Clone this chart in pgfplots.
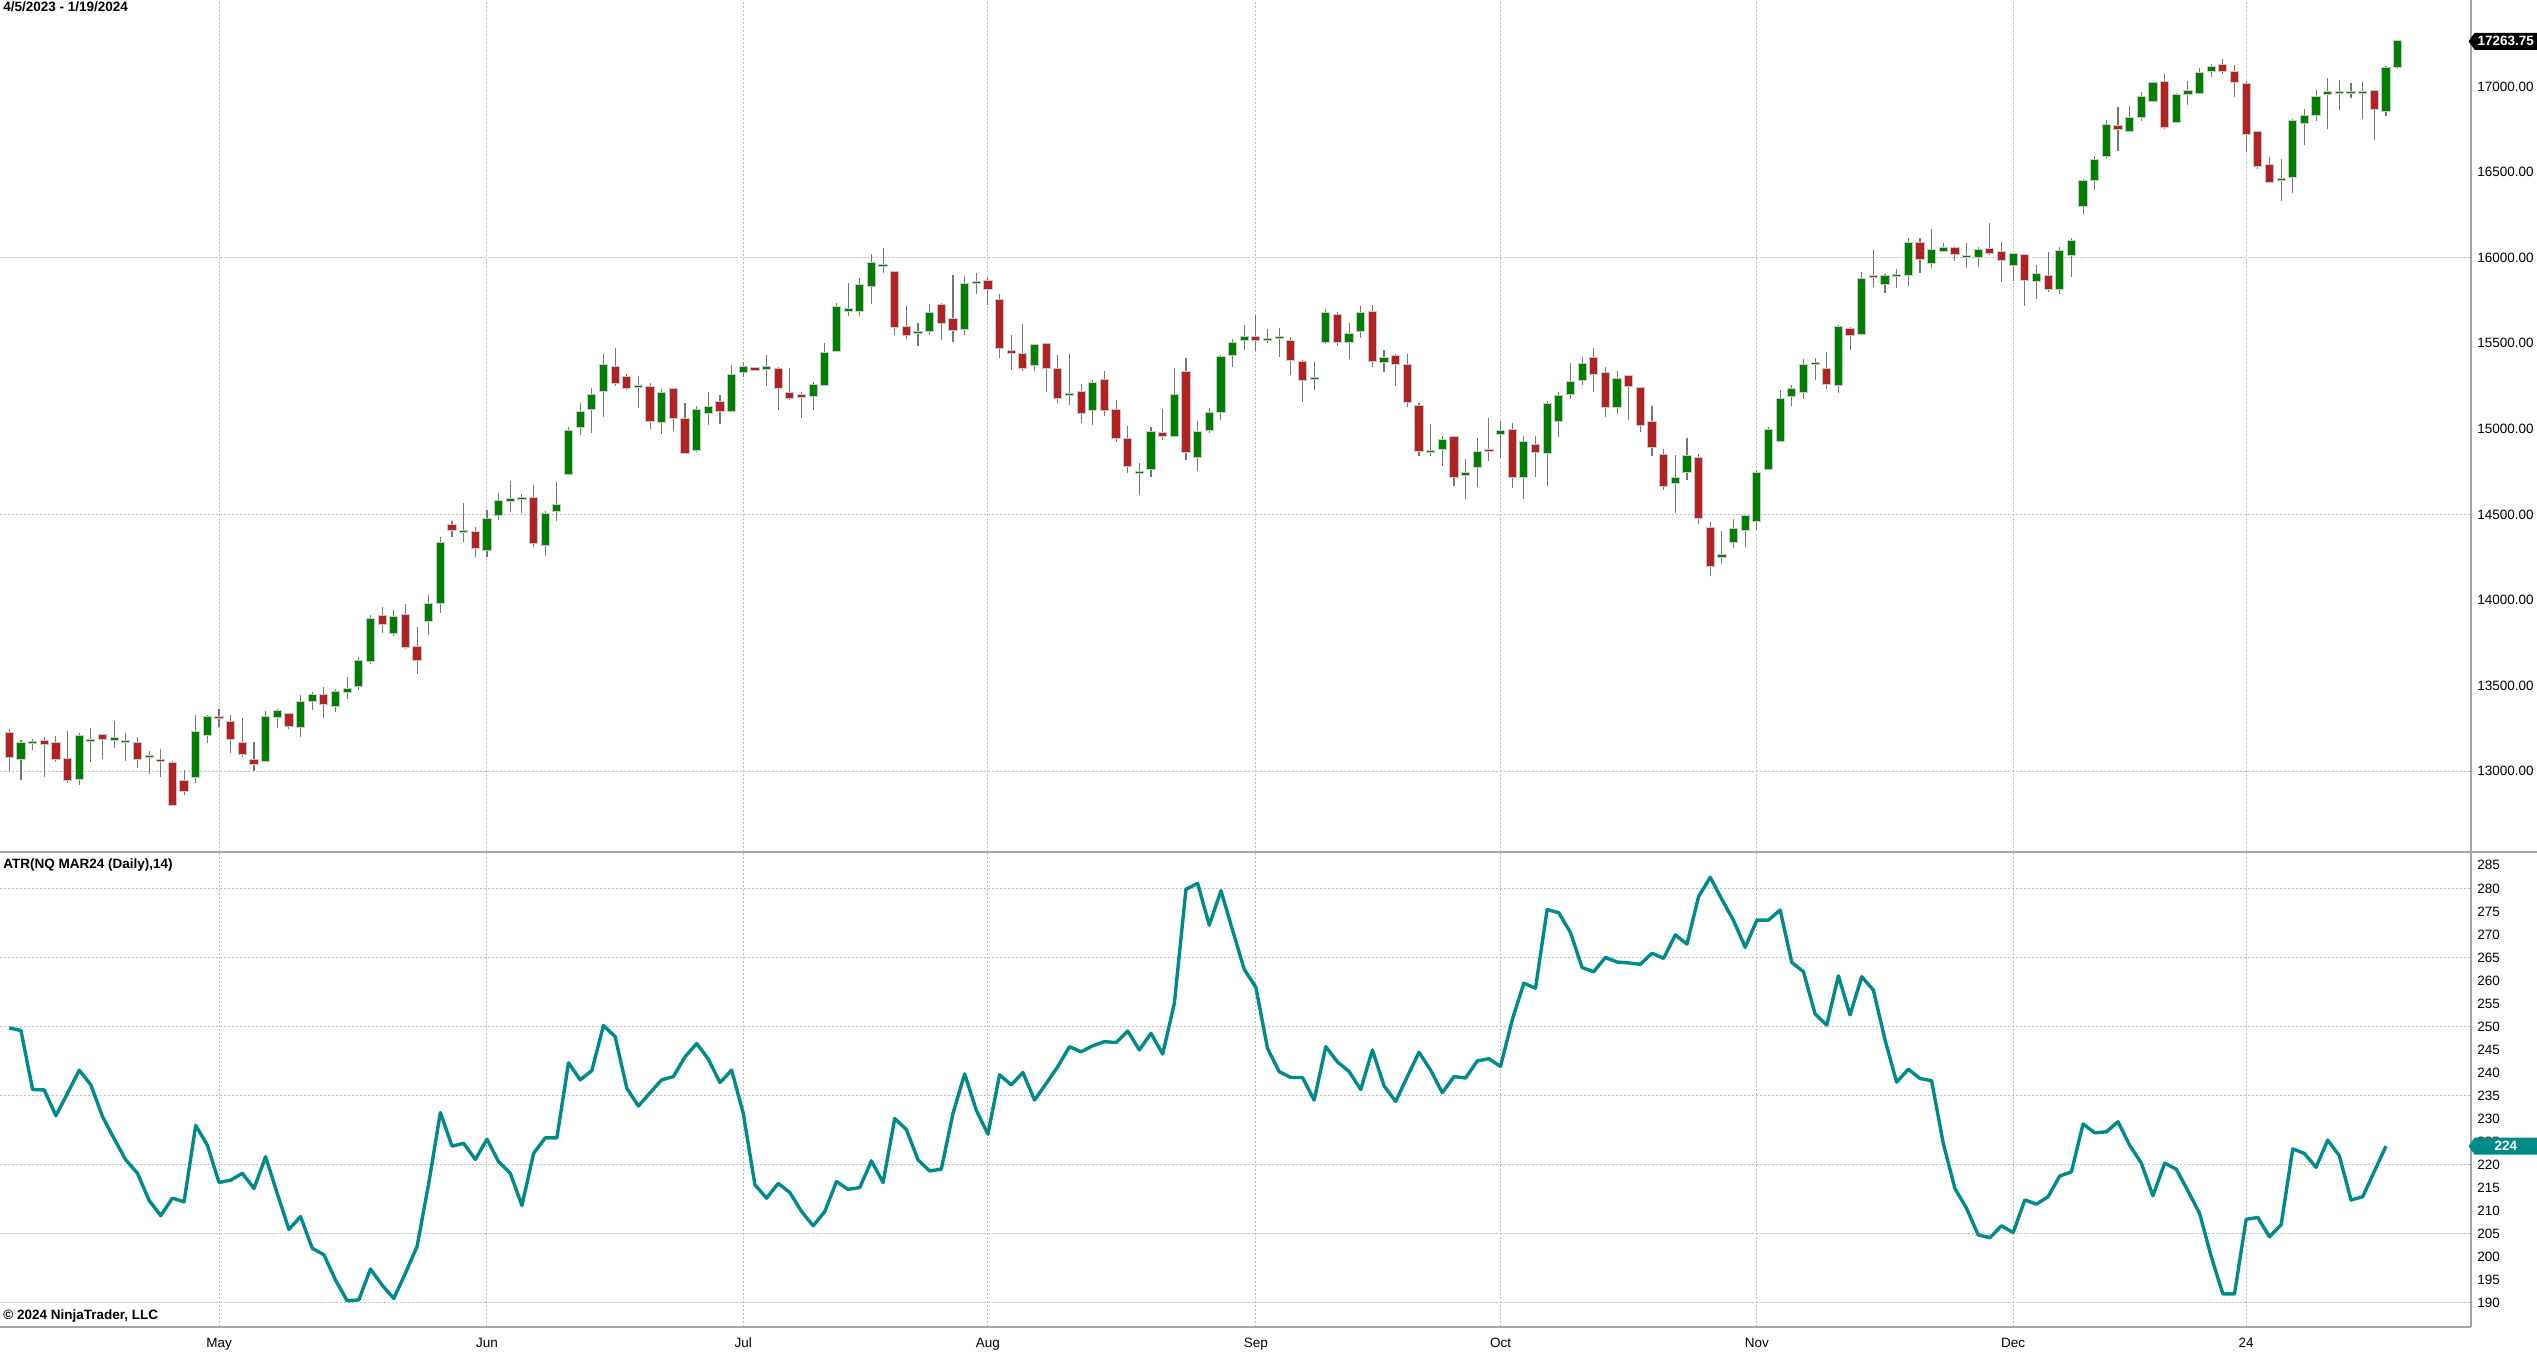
\documentclass[border=0pt]{standalone}
\usepackage{fontspec}
\setmainfont{Liberation Sans}
\usepackage{pgfplots}
\usepackage{pgfplotstable}
\pgfplotsset{compat=1.18}
\definecolor{upc}{RGB}{0,128,0}
\definecolor{dnc}{RGB}{178,34,34}
\definecolor{wickc}{RGB}{118,118,118}
\definecolor{outl}{RGB}{200,200,200}
\definecolor{gridc}{RGB}{190,190,190}
\definecolor{atrc}{RGB}{0,139,139}
\definecolor{axc}{RGB}{165,165,165}
\pgfplotstableread{
i O H L C
0 13226 13245 13004 13082
1 13072 13183 12949 13167
2 13162 13189 13121 13169
3 13177 13197 12965 13160
4 13162 13206 13053 13072
5 13070 13236 12934 12951
6 12955 13224 12922 13208
7 13178 13251 13055 13184
8 13210 13212 13072 13187
9 13185 13294 13138 13193
10 13171 13222 13062 13179
11 13162 13199 13021 13072
12 13085 13119 12982 13091
13 13068 13130 12965 13058
14 13049 13058 12799 12805
15 12940 13006 12860 12887
16 12965 13329 12934 13230
17 13214 13331 13167 13319
18 13317 13362 13257 13308
19 13288 13329 13109 13187
20 13162 13310 13082 13101
21 13064 13169 13000 13043
22 13060 13352 13055 13315
23 13315 13364 13255 13349
24 13335 13339 13249 13265
25 13261 13444 13199 13405
26 13413 13465 13358 13444
27 13444 13491 13308 13395
28 13382 13479 13347 13463
29 13463 13553 13424 13479
30 13496 13666 13473 13643
31 13643 13911 13629 13892
32 13907 13958 13810 13861
33 13806 13942 13790 13900
34 13911 13979 13713 13726
35 13724 13841 13565 13650
36 13876 14030 13798 13975
37 13980 14370 13926 14331
38 14436 14459 14370 14408
39 14398 14566 14340 14404
40 14397 14426 14253 14303
41 14292 14527 14249 14471
42 14498 14623 14467 14576
43 14580 14693 14514 14588
44 14589 14619 14508 14595
45 14595 14671 14309 14334
46 14319 14521 14259 14502
47 14521 14687 14459 14556
48 14739 15010 14732 14985
49 15012 15150 14963 15098
50 15113 15237 14977 15196
51 15223 15435 15069 15371
52 15363 15470 15252 15266
53 15301 15320 15227 15237
54 15245 15309 15124 15250
55 15243 15268 15000 15047
56 15041 15233 14967 15211
57 15231 15235 14985 15061
58 15059 15149 14852 14860
59 14876 15135 14864 15112
60 15094 15213 15020 15129
61 15157 15198 15030 15106
62 15107 15373 15098 15313
63 15330 15391 15305 15363
64 15356 15363 15336 15344
65 15348 15430 15250 15359
66 15352 15359 15110 15237
67 15208 15354 15169 15182
68 15196 15213 15065 15186
69 15194 15272 15110 15258
70 15256 15504 15250 15441
71 15457 15735 15450 15710
72 15690 15850 15661 15698
73 15690 15879 15661 15838
74 15835 16023 15729 15971
75 15951 16058 15908 15957
76 15918 15924 15548 15596
77 15592 15718 15522 15546
78 15558 15620 15483 15564
79 15571 15731 15549 15674
80 15725 15733 15516 15616
81 15639 15899 15510 15577
82 15584 15891 15548 15846
83 15849 15910 15788 15855
84 15866 15885 15725 15817
85 15753 15786 15413 15474
86 15456 15551 15341 15444
87 15440 15610 15337 15357
88 15372 15493 15337 15487
89 15497 15500 15218 15357
90 15351 15429 15150 15181
91 15200 15440 15139 15206
92 15218 15263 15035 15094
93 15109 15283 15020 15269
94 15283 15335 15074 15109
95 15109 15166 14922 14946
96 14942 15018 14741 14782
97 14744 14800 14611 14750
98 14767 15012 14720 14983
99 14973 15117 14932 14961
100 14961 15357 14958 15195
101 15331 15415 14817 14864
102 14837 15045 14751 14981
103 14996 15123 14973 15094
104 15100 15429 15051 15419
105 15433 15522 15363 15503
106 15518 15606 15460 15538
107 15536 15664 15456 15518
108 15521 15583 15501 15527
109 15528 15588 15419 15535
110 15512 15534 15314 15401
111 15388 15401 15158 15285
112 15290 15392 15224 15298
113 15505 15699 15493 15676
114 15666 15684 15485 15505
115 15505 15621 15407 15555
116 15573 15715 15532 15676
117 15680 15725 15361 15398
118 15388 15460 15333 15415
119 15427 15440 15252 15378
120 15374 15437 15129 15154
121 15135 15150 14843 14868
122 14862 15028 14839 14870
123 14884 14959 14784 14936
124 14954 14957 14667 14720
125 14732 14823 14590 14741
126 14775 14944 14662 14862
127 14879 15061 14812 14873
128 14971 15047 14827 14985
129 14991 15032 14652 14720
130 14716 14959 14590 14924
131 14907 14959 14720 14862
132 14858 15162 14664 15143
133 15043 15213 14954 15189
134 15201 15384 15174 15271
135 15287 15417 15255 15380
136 15411 15470 15217 15320
137 15326 15364 15067 15125
138 15125 15335 15086 15290
139 15306 15308 15053 15248
140 15237 15240 14979 15023
141 15041 15132 14839 14893
142 14845 14884 14644 14668
143 14683 14848 14511 14710
144 14745 14945 14702 14842
145 14827 14852 14443 14480
146 14422 14455 14138 14196
147 14251 14405 14210 14263
148 14337 14473 14302 14414
149 14410 14498 14309 14492
150 14459 14761 14410 14741
151 14765 15008 14757 14994
152 14928 15228 14924 15177
153 15189 15255 15136 15232
154 15214 15407 15173 15372
155 15376 15412 15286 15383
156 15350 15447 15235 15259
157 15255 15605 15208 15593
158 15582 15597 15461 15547
159 15556 15916 15551 15875
160 15891 16045 15831 15885
161 15846 15905 15792 15893
162 15892 15934 15825 15898
163 15897 16113 15835 16084
164 16084 16117 15909 15990
165 15967 16165 15942 16045
166 16039 16084 16033 16058
167 16058 16070 15979 16021
168 16003 16084 15938 16009
169 16006 16064 15946 16043
170 16051 16200 16014 16025
171 16035 16093 15856 15986
172 15955 16025 15866 16019
173 16016 16016 15718 15870
174 15866 15957 15757 15905
175 15893 16033 15802 15815
176 15815 16060 15788 16037
177 16016 16113 15885 16095
178 16302 16459 16255 16446
179 16453 16595 16395 16570
180 16595 16804 16574 16773
181 16771 16878 16625 16751
182 16741 16885 16736 16815
183 16819 16969 16800 16936
184 16917 17026 16909 17020
185 17024 17070 16753 16761
186 16792 16963 16784 16952
187 16955 17033 16889 16975
188 16963 17105 16955 17080
189 17092 17131 17053 17111
190 17123 17158 17072 17092
191 17086 17123 16936 17026
192 17014 17029 16619 16720
193 16734 16736 16520 16537
194 16543 16586 16434 16444
195 16454 16574 16333 16460
196 16469 16808 16376 16800
197 16788 16866 16656 16827
198 16831 16979 16800 16938
199 16957 17051 16749 16965
200 16961 17035 16862 16969
201 16963 17022 16932 16969
202 16960 17027 16808 16966
203 16975 16977 16687 16868
204 16854 17121 16829 17105
205 17111 17265 17103 17263.75
}\ohlc
\pgfplotstableread{
i A
0 249.7
1 249.1
2 236.3
3 236.2
4 230.6
5 235.5
6 240.5
7 237.3
8 230.4
9 225.6
10 221.0
11 218.1
12 212.2
13 208.9
14 212.7
15 211.9
16 228.5
17 224.2
18 216.1
19 216.6
20 218.1
21 214.8
22 221.7
23 213.7
24 205.9
25 208.7
26 201.8
27 200.4
28 194.9
29 190.4
30 190.6
31 197.3
32 193.8
33 190.9
34 196.4
35 202.2
36 215.9
37 231.3
38 224.0
39 224.6
40 221.1
41 225.5
42 220.6
43 218.1
44 211.1
45 222.4
46 225.8
47 225.8
48 242.1
49 238.4
50 240.4
51 250.2
52 247.8
53 236.6
54 232.7
55 235.6
56 238.4
57 239.1
58 243.4
59 246.3
60 242.9
61 237.8
62 240.5
63 231.1
64 215.6
65 212.7
66 215.9
67 213.9
68 209.8
69 206.7
70 209.8
71 216.3
72 214.6
73 215.0
74 220.8
75 216.1
76 230.0
77 227.6
78 221.0
79 218.6
80 219.0
81 231.1
82 239.7
83 231.8
84 226.6
85 239.5
86 237.3
87 240.0
88 234.0
89 237.6
90 241.3
91 245.6
92 244.5
93 245.8
94 246.7
95 246.5
96 249.0
97 244.9
98 248.5
99 244.0
100 255.0
101 279.8
102 281.1
103 272.0
104 279.5
105 270.9
106 262.4
107 258.5
108 245.2
109 240.2
110 238.9
111 238.9
112 234.0
113 245.6
114 242.3
115 240.2
116 236.3
117 244.9
118 237.1
119 233.7
120 239.1
121 244.4
122 240.5
123 235.6
124 239.1
125 238.8
126 242.5
127 243.0
128 241.3
129 251.4
130 259.4
131 258.3
132 275.4
133 274.7
134 270.4
135 262.8
136 261.9
137 265.0
138 264.0
139 263.8
140 263.5
141 265.9
142 264.8
143 269.9
144 267.9
145 278.2
146 282.4
147 277.6
148 273.0
149 267.2
150 273.1
151 273.1
152 275.3
153 263.9
154 261.9
155 252.7
156 250.3
157 261.0
158 252.5
159 260.8
160 257.9
161 247.1
162 237.9
163 240.7
164 238.7
165 238.2
166 224.6
167 214.8
168 210.5
169 204.7
170 204.1
171 206.7
172 205.2
173 212.3
174 211.4
175 213.0
176 217.5
177 218.4
178 228.8
179 226.9
180 227.1
181 229.3
182 224.2
183 220.3
184 213.2
185 220.3
186 219.0
187 214.3
188 209.4
189 200.0
190 191.9
191 191.9
192 208.1
193 208.5
194 204.3
195 206.9
196 223.4
197 222.4
198 219.4
199 225.3
200 221.9
201 212.3
202 213.0
203 218.5
204 224.0
}\atr
\newcommand{\lblfont}{\fontsize{6.75}{8}\selectfont}
\begin{document}
\begin{tikzpicture}[x=1pt,y=1pt]
\useasboundingbox (0,0) rectangle (1268.5,-676.5);
\pgfplotsset{
  base/.style={
    scale only axis, width=1235.5pt,
    xmin=-0.8, xmax=211.3,
    axis line style={draw=none},
    major tick length=0pt, tick style={draw=none},
    xtick={18,41,63,84,107,128,150,172,192},
    xmajorgrids,
    grid style={gridc, line width=0.5pt, dash pattern=on 1pt off 1pt},
    yticklabel pos=right,
    yticklabel style={anchor=west, inner sep=0pt, xshift=3pt, font=\lblfont},
    clip=false,
  }
}
\begin{axis}[base, at={(0pt,0pt)}, anchor=north west, height=426pt,
  ymin=12528, ymax=17505, xticklabels={},
  ytick={13000,13500,14000,14500,15000,15500,16000,16500,17000},
  yticklabels={13000.00,13500.00,14000.00,14500.00,15000.00,15500.00,16000.00,16500.00,17000.00},
  extra y ticks={13000,14500,16000}, extra y tick labels={},
  extra y tick style={grid=major}]
\addplot[wickc, line width=0.55pt, -, quiver={u=0, v={\thisrow{H}-\thisrow{L}}}] table[x=i, y=L] {\ohlc};
\addplot[outl, line width=4.6pt, -, quiver={u=0, v={abs(\thisrow{C}-\thisrow{O})+11.7}}] table[x=i, y expr={min(\thisrow{O},\thisrow{C})-5.85}] {\ohlc};
\addplot[upc, line width=3.6pt, -, quiver={u=0, v={max(\thisrow{C}-\thisrow{O},0)}}] table[x=i, y=O] {\ohlc};
\addplot[dnc, line width=3.6pt, -, quiver={u=0, v={min(\thisrow{C}-\thisrow{O},0)}}] table[x=i, y=O] {\ohlc};
\coordinate (pc) at (axis cs:211.3,17263.75);
\end{axis}
\begin{axis}[base, at={(0pt,-426pt)}, anchor=north west, height=237.5pt,
  ymin=184.7, ymax=287.9,
  xticklabels={May,Jun,Jul,Aug,Sep,Oct,Nov,Dec,24},
  xticklabel style={anchor=base, inner sep=0pt, yshift=-10.4pt, font=\lblfont},
  ytick={190,195,...,285},
  yticklabels={190,195,200,205,210,215,220,225,230,235,240,245,250,255,260,265,270,275,280,285},
  extra y ticks={190,205,220,235,250,265,280}, extra y tick labels={},
  extra y tick style={grid=major}]
\addplot[atrc, line width=1.7pt, line join=round] table[x=i, y=A] {\atr};
\coordinate (ac) at (axis cs:211.3,224);
\end{axis}
\draw[axc, line width=0.6pt] (0,-426) -- (1268.5,-426);
\draw[axc, line width=0.6pt] (1235.5,0) -- (1235.5,-663.5);
\draw[axc, line width=0.6pt] (0,-663.5) -- (1235.5,-663.5);
\fill[black] (pc) ++(-1.2,0) -- ++(3,4.25) -- ++(31.2,0) -- ++(0,-8.5) -- ++(-31.2,0) -- cycle;
\node[text=white, inner sep=0pt, font=\bfseries\lblfont] at ([xshift=17.4pt]pc) {17263.75};
\fill[atrc] (ac) ++(-1.2,0) -- ++(3,4.25) -- ++(31.2,0) -- ++(0,-8.5) -- ++(-31.2,0) -- cycle;
\node[text=white, inner sep=0pt, font=\bfseries\lblfont] at ([xshift=17.4pt]ac) {224};
\node[anchor=base west, inner sep=0pt, font=\bfseries\lblfont] at (1.5,-5.6) {4/5/2023 - 1/19/2024};
\node[anchor=base west, inner sep=0pt, font=\bfseries\lblfont] at (1.5,-434.4) {ATR(NQ MAR24 (Daily),14)};
\node[anchor=base west, inner sep=0pt, font=\bfseries\lblfont] at (1.5,-659.9) {\textcopyright{} 2024 NinjaTrader, LLC};
\end{tikzpicture}
\end{document}
